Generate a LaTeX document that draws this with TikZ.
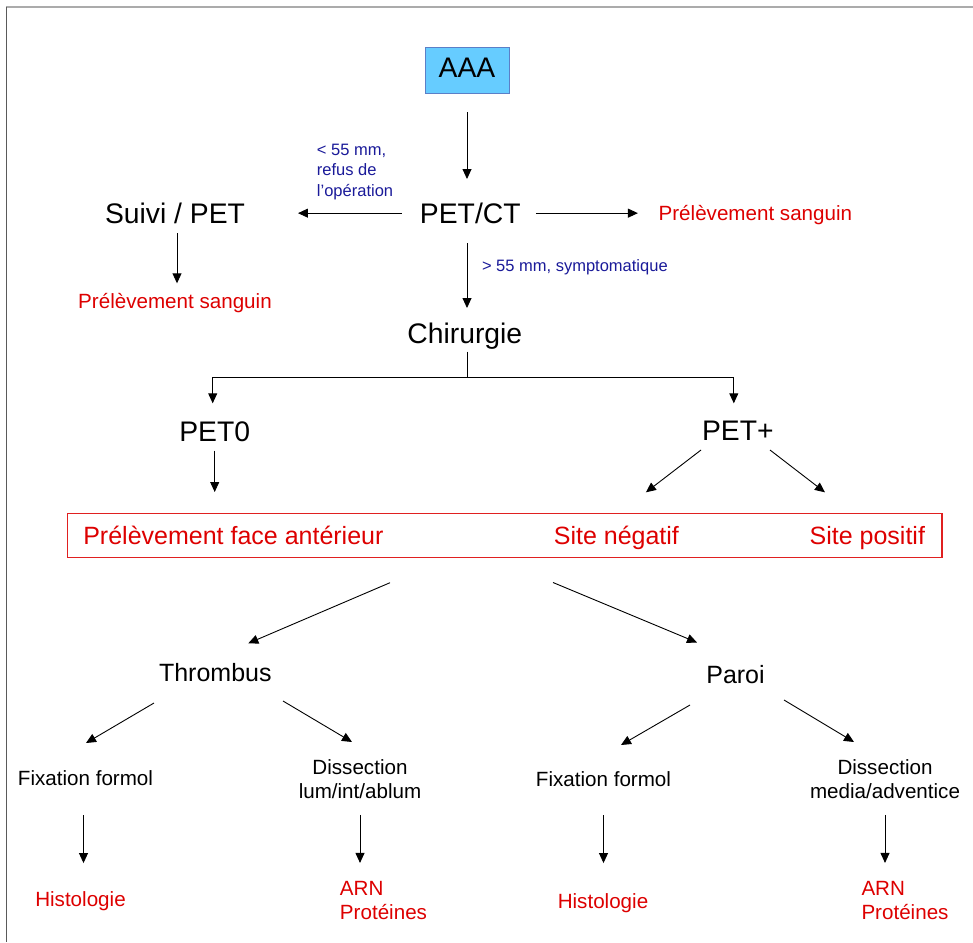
\documentclass[tikz,border=0pt]{standalone}
\usepackage{fontspec}
\setmainfont{Liberation Sans}
\usetikzlibrary{positioning,arrows.meta}
\definecolor{aaablue}{HTML}{66CCFF}
\definecolor{aaaedge}{HTML}{5B7FC7}
\definecolor{resred}{HTML}{DD0000}
\definecolor{boxred}{HTML}{E02020}
\definecolor{notenavy}{HTML}{1A1A99}
\definecolor{topgray}{HTML}{ABABAB}
\definecolor{sidegray}{HTML}{5A5A5A}

\begin{document}
\begin{tikzpicture}[x=1pt, y=-1pt,
    lbl/.style={inner sep=0pt, outer sep=0pt},
    big/.style={lbl, font=\fontsize{28.3pt}{34pt}\selectfont, text height=20.3pt, text depth=0pt},
    mid/.style={lbl, font=\fontsize{25pt}{30pt}\selectfont, text height=17.9pt, text depth=0pt},
    small/.style={lbl, font=\fontsize{20.6pt}{24.3pt}\selectfont, text height=14.75pt, text depth=0pt},
    twoline/.style={lbl, font=\fontsize{20.6pt}{24.3pt}\selectfont, align=center},
    result/.style={twoline, text=resred, align=left},
    note/.style={lbl, font=\fontsize{16.5pt}{20.5pt}\selectfont, text=notenavy, align=left},
    startbox/.style={big, draw=aaaedge, line width=0.8pt, fill=aaablue, text depth=6pt, minimum width=84pt, minimum height=46pt},
    sitebox/.style={lbl, draw=boxred, line width=1.6pt, minimum width=874.4pt, minimum height=44.2pt},
    arrow/.style={-{Triangle[length=10pt,width=9pt]}, line width=0.9pt}
  ]
    \useasboundingbox (0,0) rectangle (973,942);
    \draw[topgray, line width=1.7pt] (6,6.8) -- (973,6.8);
    \draw[sidegray, line width=1.2pt] (6.5,6.8) -- (6.5,942);

    % top of the tree
    \node[startbox] (aaa) at (467,70) {AAA};
    \node[big, below=110pt of aaa, xshift=3.3pt] (petct) {PET/CT};
    \node[big, base left=175pt of petct] (suivi) {Suivi / PET};
    \node[small, text=resred, base right=138pt of petct, yshift=3.3pt] (sangR) {Prélèvement sanguin};
    \node[small, text=resred, below=70.2pt of suivi] (sangL) {Prélèvement sanguin};
    \node[big, below=99.7pt of petct, xshift=-5.5pt] (chir) {Chirurgie};
    \node[big, below=78.1pt of chir, xshift=-250.1pt] (pet0) {PET0};
    \node[big, below=77.1pt of chir, xshift=273pt] (petplus) {PET+};

    % sampling sites
    \node[sitebox] (site) at (504.5,535.4) {};
    \node[mid, text=resred, anchor=base west] (ant) at ([xshift=16pt, yshift=-8.6pt]site.west) {Prélèvement face antérieur};
    \node[mid, text=resred, anchor=base east] (pos) at ([xshift=-16.7pt, yshift=-8.6pt]site.east) {Site positif};
    \node[mid, text=resred, base left=130.7pt of pos] (neg) {Site négatif};

    % tissue
    \node[mid, below=105.6pt of site, xshift=-289.2pt] (thrombus) {Thrombus};
    \node[mid, below=108.1pt of site, xshift=231pt] (paroi) {Paroi};
    \node[small, below=89.3pt of thrombus, xshift=-129.8pt] (fixL) {Fixation formol};
    \node[twoline, below=78.2pt of thrombus, xshift=144.7pt] (disL) {Dissection\\lum/int/ablum};
    \node[small, below=88.5pt of paroi, xshift=-132pt] (fixR) {Fixation formol};
    \node[twoline, below=75.7pt of paroi, xshift=149.5pt] (disR) {Dissection\\media/adventice};
    \node[small, text=resred, below=106.7pt of fixL, xshift=-5pt] (histL) {Histologie};
    \node[result, below=82.6pt of disL, xshift=23.5pt] (arnL) {ARN\\Protéines};
    \node[small, text=resred, below=106.8pt of fixR, xshift=-0.5pt] (histR) {Histologie};
    \node[result, below=82.6pt of disR, xshift=20pt] (arnR) {ARN\\Protéines};

    % connectors
    \draw[arrow, shorten <=19pt, shorten >=24pt] (aaa.south) -- (aaa.south |- petct.north);
    \draw[arrow, shorten <=18pt, shorten >=53pt] (petct.west) -- node[note, pos=0.5886, anchor=south west, yshift=13.6pt] (lt55) {< 55 mm,\\refus de\\l’opération} (petct.west -| suivi.east);
    \draw[arrow, shorten <=15.3pt, shorten >=20.7pt] (petct.east) -- (petct.east -| sangR.west);
    \draw[arrow, shorten <=19.7pt, shorten >=15pt] (aaa |- petct.south) -- node[note, pos=0.4855, anchor=base west, xshift=15pt] (gt55) {> 55 mm, symptomatique} (aaa |- chir.north);
    \draw[arrow, shorten <=10pt, shorten >=10.2pt] ([xshift=2pt]suivi.south) -- ([xshift=2pt]suivi.south |- sangL.north);

    \draw[arrow, shorten <=8.4pt, shorten >=18.1pt] (chir.south -| aaa) -- ++(0,33.7) -| ([xshift=-2pt]pet0.north);
    \draw[arrow, shorten >=17.1pt] (chir.south -| aaa) ++(0,33.7) -| ([xshift=-4pt]petplus.north);
    \draw[arrow, shorten <=9pt, shorten >=21.3pt] (pet0.south) -- (pet0.south |- site.north);
    \draw[arrow] ([xshift=-36.8pt, yshift=-9.3pt]petplus.south) -- ([xshift=29.5pt, yshift=33.8pt]neg.north);
    \draw[arrow] ([xshift=32.2pt, yshift=-9.3pt]petplus.south) -- ([xshift=-42.4pt, yshift=33.8pt]pos.north);

    \draw[arrow] ([xshift=-114.5pt, yshift=-25.2pt]site.south) -- ([xshift=33pt, yshift=19.8pt]thrombus.north);
    \draw[arrow] ([xshift=48.5pt, yshift=-25pt]site.south) -- ([xshift=-38.5pt, yshift=23.1pt]paroi.north);

    \draw[arrow] ([xshift=-61.3pt, yshift=-22pt]thrombus.south) -- ([xshift=0.5pt, yshift=27.3pt]fixL.north);
    \draw[arrow] ([xshift=67.7pt, yshift=-20pt]thrombus.south) -- ([xshift=-8pt, yshift=17.2pt]disL.north);
    \draw[arrow] ([xshift=-45.5pt, yshift=-21.5pt]paroi.south) -- ([xshift=17.5pt, yshift=27pt]fixR.north);
    \draw[arrow] ([xshift=48.5pt, yshift=-16.5pt]paroi.south) -- ([xshift=-31pt, yshift=17.2pt]disR.north);

    \draw[arrow, shorten <=30pt, shorten >=28.7pt] ([xshift=-2pt]fixL.south) -- ([xshift=-2pt]fixL.south |- histL.north);
    \draw[arrow, shorten <=16.3pt, shorten >=18.3pt] (disL.south) -- (disL.south |- arnL.north);
    \draw[arrow, shorten <=28.3pt, shorten >=30.5pt] (fixR.south) -- (fixR.south |- histR.north);
    \draw[arrow, shorten <=16.3pt, shorten >=18.3pt] (disR.south) -- (disR.south |- arnR.north);
\end{tikzpicture}
\end{document}
